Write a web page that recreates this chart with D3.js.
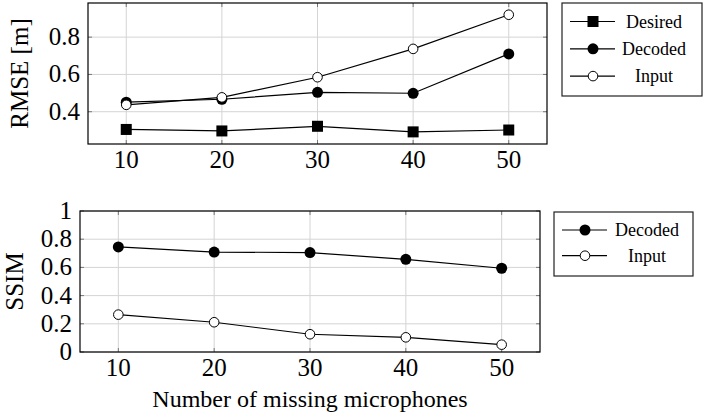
<!DOCTYPE html>
<html>
<head>
<meta charset="utf-8">
<script src="https://cdn.jsdelivr.net/npm/d3@7"></script>
<style>
  body { margin: 0; background: #fff; }
</style>
</head>
<body>
<svg width="713" height="416" font-family="'Liberation Serif', 'DejaVu Serif', serif"></svg>
<script>
// nombre de micros manquants
const missing = [10, 20, 30, 40, 50];

// RMSE [m]
const rmseDesired = [0.305, 0.297, 0.322, 0.292, 0.302];
const rmseDecoded = [0.451, 0.467, 0.504, 0.499, 0.710];
const rmseInput   = [0.437, 0.477, 0.585, 0.737, 0.920];
const rmseTicks   = [0.4, 0.6, 0.8];

// SSIM
const ssimDecoded = [0.745, 0.709, 0.705, 0.657, 0.594];
const ssimInput   = [0.265, 0.211, 0.126, 0.104, 0.052];
const ssimTicks   = [0, 0.2, 0.4, 0.6, 0.8, 1];

const svg = d3.select("svg");

function panel(opt) {
  const g = svg.append("g");
  const x = d3.scaleLinear().domain([6, 54]).range([opt.left, opt.right]);
  const y = d3.scaleLinear().domain(opt.ydom).range([opt.bottom, opt.top]);

  // grille
  g.selectAll(".gx").data(missing).enter().append("line")
      .attr("x1", d => x(d)).attr("x2", d => x(d))
      .attr("y1", opt.top).attr("y2", opt.bottom)
      .attr("stroke", "#d4d4d4").attr("stroke-width", 1);
  g.selectAll(".gy").data(opt.ticks).enter().append("line")
      .attr("x1", opt.left).attr("x2", opt.right)
      .attr("y1", d => y(d)).attr("y2", d => y(d))
      .attr("stroke", "#d4d4d4").attr("stroke-width", 1);

  // petits tics internes
  const tk = 4;
  opt.ticks.forEach(t => {
    g.append("line").attr("x1", opt.left).attr("x2", opt.left + tk)
      .attr("y1", y(t)).attr("y2", y(t)).attr("stroke", "#777");
    g.append("line").attr("x1", opt.right).attr("x2", opt.right - tk)
      .attr("y1", y(t)).attr("y2", y(t)).attr("stroke", "#777");
  });
  missing.forEach(t => {
    g.append("line").attr("x1", x(t)).attr("x2", x(t))
      .attr("y1", opt.bottom).attr("y2", opt.bottom - tk).attr("stroke", "#777");
    g.append("line").attr("x1", x(t)).attr("x2", x(t))
      .attr("y1", opt.top).attr("y2", opt.top + tk).attr("stroke", "#777");
  });

  // cadre
  g.append("rect")
      .attr("x", opt.left).attr("y", opt.top)
      .attr("width", opt.right - opt.left).attr("height", opt.bottom - opt.top)
      .attr("fill", "none").attr("stroke", "#000").attr("stroke-width", 1.2);

  // étiquettes des tics
  g.selectAll(".tx").data(missing).enter().append("text")
      .attr("x", d => x(d)).attr("y", opt.bottom + 24)
      .attr("text-anchor", "middle").attr("font-size", 25)
      .text(d => d);
  g.selectAll(".ty").data(opt.ticks).enter().append("text")
      .attr("x", opt.left - 8).attr("y", d => y(d) + 8)
      .attr("text-anchor", "end").attr("font-size", 25)
      .text(d => d3.format("~g")(d));

  // titre axe y
  g.append("text")
      .attr("transform", `translate(${opt.ylabelX},${(opt.top + opt.bottom) / 2}) rotate(-90)`)
      .attr("text-anchor", "middle").attr("font-size", 25)
      .text(opt.ylabel);

  const line = d3.line().x((d, i) => x(missing[i])).y(d => y(d));

  opt.series.forEach(s => {
    g.append("path").datum(s.values)
        .attr("d", line).attr("fill", "none")
        .attr("stroke", "#000").attr("stroke-width", 1.2);
    drawMarks(g, s.mark, s.values.map((v, i) => [x(missing[i]), y(v)]));
  });

  // légende
  const lg = svg.append("g");
  lg.append("rect")
      .attr("x", opt.legend.x).attr("y", opt.legend.y)
      .attr("width", opt.legend.w).attr("height", opt.legend.h)
      .attr("fill", "#fff").attr("stroke", "#222").attr("stroke-width", 1.2);
  opt.series.forEach((s, i) => {
    const cy = opt.legend.y0 + i * opt.legend.dy;
    lg.append("line")
        .attr("x1", opt.legend.x + 8).attr("x2", opt.legend.x + 53)
        .attr("y1", cy).attr("y2", cy).attr("stroke", "#000").attr("stroke-width", 1.2);
    drawMarks(lg, s.mark, [[opt.legend.x + 31, cy]]);
    lg.append("text")
        .attr("x", opt.legend.x + opt.legend.tx).attr("y", cy + 6)
        .attr("text-anchor", "middle").attr("font-size", 18)
        .text(s.name);
  });
}

function drawMarks(g, mark, pts) {
  pts.forEach(p => {
    if (mark === "square") {
      g.append("rect").attr("x", p[0] - 5.5).attr("y", p[1] - 5.5)
        .attr("width", 11).attr("height", 11).attr("fill", "#000");
    } else if (mark === "dot") {
      g.append("circle").attr("cx", p[0]).attr("cy", p[1]).attr("r", 5.5)
        .attr("fill", "#000");
    } else {
      g.append("circle").attr("cx", p[0]).attr("cy", p[1]).attr("r", 4.8)
        .attr("fill", "#fff").attr("stroke", "#000").attr("stroke-width", 1);
    }
  });
}

panel({
  left: 88, right: 547, top: 3, bottom: 144,
  ydom: [0.227, 0.983], ticks: rmseTicks,
  ylabel: "RMSE [m]", ylabelX: 28,
  series: [
    { name: "Desired", mark: "square", values: rmseDesired },
    { name: "Decoded", mark: "dot", values: rmseDecoded },
    { name: "Input", mark: "circle", values: rmseInput }
  ],
  legend: { x: 562, y: 3, w: 140, h: 93, y0: 21.5, dy: 27.3, tx: 92 }
});

panel({
  left: 80, right: 540, top: 211, bottom: 352,
  ydom: [0, 1], ticks: ssimTicks,
  ylabel: "SSIM", ylabelX: 23,
  series: [
    { name: "Decoded", mark: "dot", values: ssimDecoded },
    { name: "Input", mark: "circle", values: ssimInput }
  ],
  legend: { x: 554, y: 212, w: 139, h: 64, y0: 230, dy: 25.7, tx: 93 }
});

svg.append("text")
    .attr("x", 310).attr("y", 407)
    .attr("text-anchor", "middle").attr("font-size", 24)
    .text("Number of missing microphones");
</script>
</body>
</html>
